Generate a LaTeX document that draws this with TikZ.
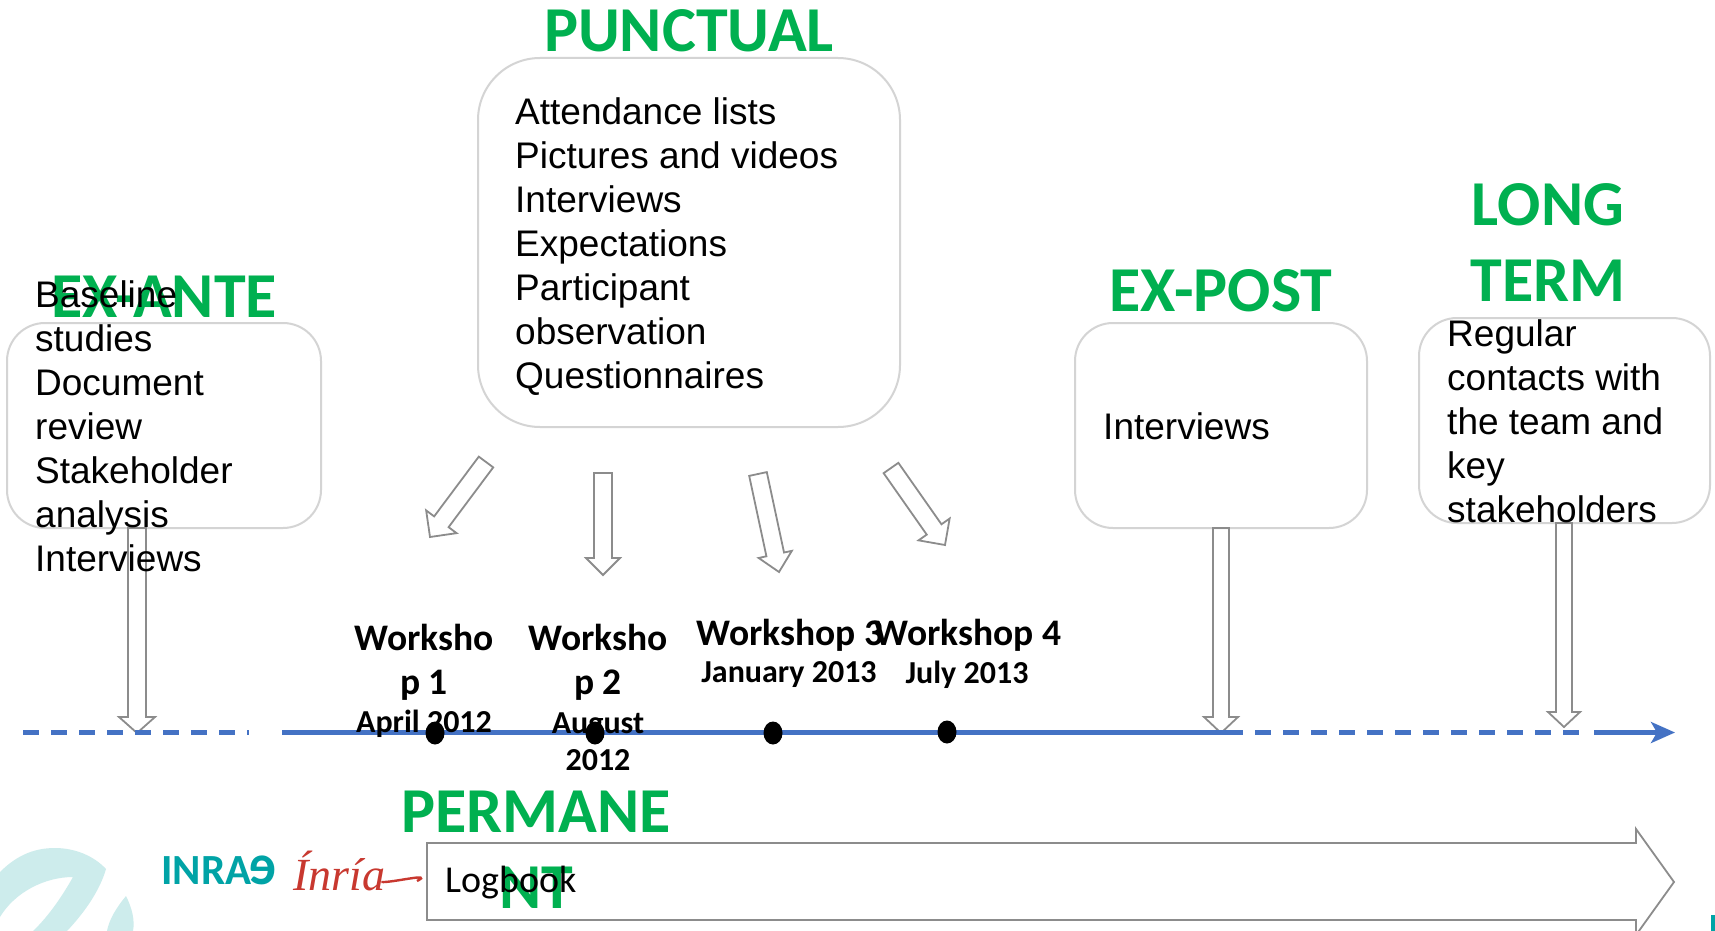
\documentclass[tikz,border=0pt]{standalone}
\usepackage{fontspec}
\setmainfont{Liberation Sans}
\newfontfamily\calfam{Carlito}
\newfontfamily\logoserif{Liberation Serif}
\usetikzlibrary{shapes.geometric,arrows.meta,calc}
\definecolor{headgreen}{HTML}{00B050}
\definecolor{lineblue}{HTML}{4472C4}
\definecolor{boxgrey}{HTML}{D4D4D4}
\definecolor{arrowgrey}{HTML}{8C8C8C}
\definecolor{paleteal}{HTML}{CDECEC}
\definecolor{inraeteal}{HTML}{00A3A6}
\definecolor{inriared}{HTML}{C8382F}
\tikzset{
  x=1pt,y=-1pt,
  roundbox/.style={draw=boxgrey,line width=2pt,rounded corners=38pt,fill=white},
  bigbox/.style={roundbox,rounded corners=62pt},
  body/.style={font=\fontsize{37}{44}\selectfont,align=left,anchor=west,inner sep=0pt,text=black},
  logtext/.style={font=\calfam\fontsize{38}{44}\selectfont,anchor=west,inner sep=0pt,text=black},
  heading/.style={font=\calfam\bfseries\fontsize{64}{76}\selectfont,text=headgreen,align=center,inner sep=0pt},
  wname/.style={font=\calfam\bfseries\fontsize{37.5}{44}\selectfont,align=center,inner sep=0pt,text=black},
  wdate/.style={font=\calfam\bfseries\fontsize{32}{37}\selectfont,align=center,inner sep=0pt,text=black},
  evdot/.style={ellipse,fill=black,inner sep=0pt,minimum width=19pt,minimum height=23pt},
  tline/.style={draw=lineblue,line width=4.2pt},
  tdash/.style={tline,dash pattern=on 16pt off 12pt},
  blockarrow/.style={draw=arrowgrey,line width=1.8pt},
}
% \blockarr{name}{tail}{tip}{half shaft}{half head}{head length}
\newcommand{\blockarr}[6]{%
  \coordinate (#1t) at (#2);
  \coordinate (#1h) at (#3);
  \coordinate (#1b) at ($(#1h)!#6pt!(#1t)$);
  \draw[blockarrow]
    ($(#1t)!#4pt!90:(#1h)$) --
    ($(#1b)!#4pt!90:(#1h)$) --
    ($(#1b)!#5pt!90:(#1h)$) --
    (#1h) --
    ($(#1b)!#5pt!-90:(#1h)$) --
    ($(#1b)!#4pt!-90:(#1h)$) --
    ($(#1t)!#4pt!-90:(#1h)$) -- cycle;}
\begin{document}
\begin{tikzpicture}
\useasboundingbox (0,0) rectangle (1715,931);
\fill[white] (0,0) rectangle (1715,931);
% pale background logo
\fill[paleteal] (0,872) .. controls (18,854) and (36,848) .. (55,848)
  .. controls (75,848) and (94,856) .. (106,869)
  .. controls (100,890) and (85,912) .. (67,931) -- (33,931)
  .. controls (50,915) and (64,893) .. (73,877)
  .. controls (45,877) and (15,892) .. (0,917) -- cycle;
\fill[paleteal] (126,896) .. controls (132,908) and (135,920) .. (133,931) -- (107,931)
  .. controls (109,920) and (116,908) .. (126,896) -- cycle;
\fill[inraeteal] (1711,915) rectangle (1715,931);
% logos
\node[inner sep=0pt,anchor=west,text=inraeteal,font=\calfam\bfseries\fontsize{43}{43}\selectfont] (inrae) at (161,870) {INRA\kern-2pt\scalebox{-1.25}[1.35]{e}};
\node[inner sep=0pt,anchor=west,text=inriared,font=\logoserif\itshape\fontsize{46}{46}\selectfont] (inria) at (293,871) {Ínría};
\coordinate (swoosh) at (417,881);
\draw[inriared,line width=2.4pt] (inria.east) ++(-4,11) .. controls +(10,1) and +(18,-9) .. (swoosh);
% boxes
\draw[roundbox] (7,323) rectangle (321,528);
\draw[bigbox] (478,58) rectangle (900,427);
\draw[roundbox] (1075,323) rectangle (1367,528);
\draw[roundbox] (1419,318) rectangle (1710,523);
% block arrows
\blockarr{d}{486,462}{430,537}{9}{19}{19}
\blockarr{e}{603,473}{603,575}{9}{17}{17}
\blockarr{f}{758,474}{779,572}{9}{17}{18}
\blockarr{g}{891,468}{945,545}{9}{19}{19}
\blockarr{a}{137,528}{137,733}{9}{18}{16}
\blockarr{b}{1221,528}{1221,733}{8}{17}{16}
\blockarr{c}{1564,523}{1564,727}{8}{16}{15}
% logbook arrow
\coordinate (la) at (427,843);
\draw[blockarrow] (la) -- (1636,843) -- (1636,829) -- (1674,882) -- (1636,935) -- (1636,920) -- (427,920) -- cycle;
% timeline
\coordinate (t0) at (23,732.5);
\coordinate (t1) at (249,732.5);
\coordinate (t2) at (282,732.5);
\coordinate (t3) at (1243,732.5);
\coordinate (t3b) at (1255,732.5);
\coordinate (t4) at (1582,732.5);
\coordinate (t5) at (1594,732.5);
\coordinate (t6) at (1675,732.5);
\draw[tdash] (t0) -- (t1);
\draw[tline] (t2) -- (t3);
\draw[tdash] (t3b) -- (t4);
\draw[tline,-{Stealth[length=24pt,width=21pt,inset=6pt]}] (t5) -- (t6);
\node[evdot] (w1) at (435,733) {};
\node[evdot] (w2) at (595,733) {};
\node[evdot] (w3) at (773,733) {};
\node[evdot] (w4) at (947,732) {};
% workshop labels
\node[wname] (n1) at (424,662) {Worksho\\p 1};
\node[wname] (n2) at (598,662) {Worksho\\p 2};
\node[wname] (n3) at (790,635) {Workshop 3};
\node[wname] (n4) at (968,635) {Workshop 4};
\node[wdate] (d1) at (424,724) {April 2012};
\node[wdate] (d2) at (598,742) {August\\2012};
\node[wdate] (d3) at (789,675) {January 2013};
\node[wdate] (d4) at (967,675) {July 2013};
% headings
\node[heading] (h1) at (164,297) {EX-ANTE};
\node[heading] (h2) at (689,31) {PUNCTUAL};
\node[heading] (h3) at (1221,291) {EX-POST};
\node[heading] (h4) at (1548,243) {LONG\\TERM};
\node[heading] (h5) at (536,850) {PERMANE\\NT};
% body text
\node[body] (t1a) at (35,426) {Baseline\\studies\\Document\\review\\Stakeholder\\analysis\\Interviews};
\node[body] (t2a) at (515,247) {Attendance lists\\Pictures and videos\\Interviews\\Expectations\\Participant\\observation\\Questionnaires};
\node[body] (t3a) at (1103,426) {Interviews};
\node[body] (t4a) at (1447,421) {Regular\\contacts with\\the team and\\key\\stakeholders};
\node[logtext] (t5a) at (445,883) {Logbook};
\end{tikzpicture}
\end{document}
